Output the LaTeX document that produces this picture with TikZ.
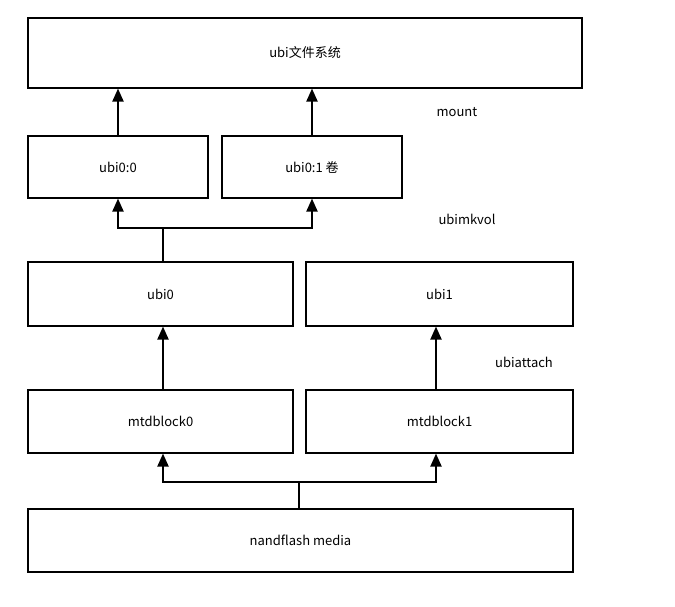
\documentclass[tikz,border=0pt]{standalone}
\usepackage{fontspec}
\setmainfont{Noto Sans CJK SC}
\usetikzlibrary{arrows.meta}
\begin{document}
\begin{tikzpicture}[x=1pt,y=-1pt,
  box/.style={draw,line width=1.1pt,inner sep=0pt,font=\fontsize{13}{15}\selectfont},
  conn/.style={line width=2pt,-{Triangle[width=11pt,length=13pt]}},
  lbl/.style={font=\fontsize{13}{15}\selectfont}]
\useasboundingbox (0,0) rectangle (675,607);
\node[box,minimum width=554pt,minimum height=70pt] (fs) at (305,53) {ubi文件系统};
\node[box,minimum width=180pt,minimum height=62pt] (v0) at (118,167) {ubi0:0};
\node[box,minimum width=180pt,minimum height=62pt] (v1) at (312,167) {ubi0:1 卷};
\node[box,minimum width=265pt,minimum height=64pt] (u0) at (160.5,294) {ubi0};
\node[box,minimum width=267pt,minimum height=64pt] (u1) at (439.5,294) {ubi1};
\node[box,minimum width=265pt,minimum height=63pt] (m0) at (160.5,421.5) {mtdblock0};
\node[box,minimum width=267pt,minimum height=63pt] (m1) at (439.5,421.5) {mtdblock1};
\node[box,minimum width=545pt,minimum height=63pt] (nf) at (300.5,540.5) {nandflash media};
\node[lbl] (lm) at (457,112) {mount};
\node[lbl] (lk) at (467,219) {ubimkvol};
\node[lbl] (la) at (524,362) {ubiattach};
\coordinate (j1) at (163,228);
\coordinate (j2) at (299,482);
\draw[conn] (v0.north) -- (fs.south -| v0.north);
\draw[conn] (v1.north) -- (fs.south -| v1.north);
\draw[line width=2pt] (u0.north -| j1) -- (j1);
\draw[conn] (j1) -| (v0.south);
\draw[conn] (j1) -| (v1.south);
\draw[conn] (m0.north -| j1) -- (u0.south -| j1);
\draw[conn] (m1.north -| 436,0) -- (u1.south -| 436,0);
\draw[line width=2pt] (nf.north -| j2) -- (j2);
\draw[conn] (j2) -| (m0.south -| j1);
\draw[conn] (j2) -| (m1.south -| 436,0);
\end{tikzpicture}
\end{document}
